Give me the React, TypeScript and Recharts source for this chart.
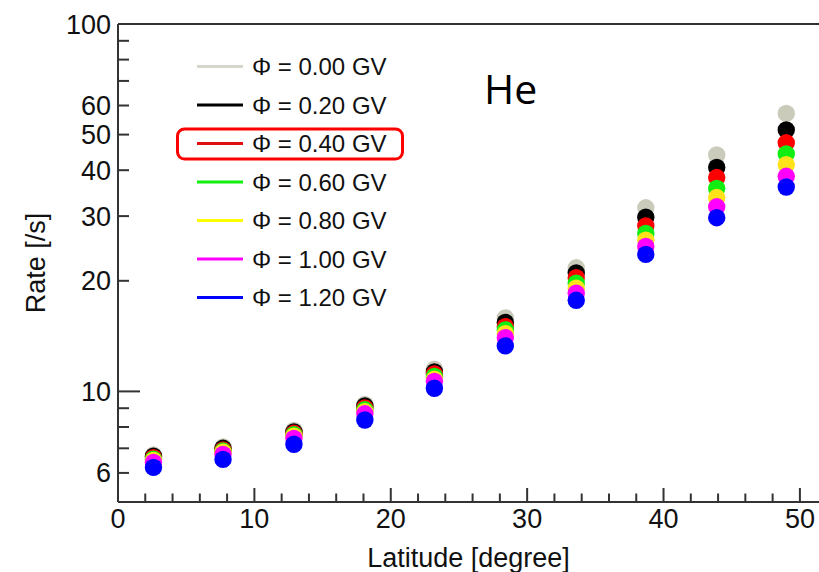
import React from 'react';
import { ScatterChart, Scatter, XAxis, YAxis, ReferenceLine, Legend, Label } from 'recharts';

const latitudes = [2.6, 7.7, 12.9, 18.1, 23.2, 28.4, 33.6, 38.7, 43.9, 49.0];
const phi000 = [6.71, 7.06, 7.83, 9.22, 11.5, 15.85, 21.7, 31.6, 44.0, 57.1];
const phi020 = [6.66, 7.0, 7.76, 9.13, 11.3, 15.4, 21.0, 29.8, 40.7, 51.5];
const phi040 = [6.6, 6.93, 7.69, 9.02, 11.16, 15.0, 20.4, 28.2, 38.2, 47.5];
const phi060 = [6.54, 6.88, 7.62, 8.91, 10.98, 14.7, 19.7, 26.9, 35.7, 44.3];
const phi080 = [6.49, 6.83, 7.55, 8.8, 10.8, 14.35, 19.1, 25.8, 33.7, 41.4];
const phi100 = [6.41, 6.74, 7.45, 8.69, 10.65, 14.0, 18.5, 24.8, 31.8, 38.5];
const phi120 = [6.21, 6.53, 7.18, 8.36, 10.2, 13.3, 17.7, 23.6, 29.7, 36.0];

const seriesValues = [phi000, phi020, phi040, phi060, phi080, phi100, phi120];
const seriesNames = [
  'Φ = 0.00 GV',
  'Φ = 0.20 GV',
  'Φ = 0.40 GV',
  'Φ = 0.60 GV',
  'Φ = 0.80 GV',
  'Φ = 1.00 GV',
  'Φ = 1.20 GV',
];
const seriesColors = ['#cbcbbb', '#000000', '#ff0000', '#11ee11', '#ffe21a', '#ff00ff', '#0000ff'];
const legendLineColors = ['#d6d6cc', '#000000', '#e01010', '#11ee11', '#ffff00', '#ff00ff', '#0000ff'];

const xTicks = [0, 2, 4, 6, 8, 10, 12, 14, 16, 18, 20, 22, 24, 26, 28, 30, 32, 34, 36, 38, 40, 42, 44, 46, 48, 50];
const xTickLabels = [0, 10, 20, 30, 40, 50];
const yTicks = [6, 7, 8, 9, 10, 20, 30, 40, 50, 60, 70, 80, 90, 100];
const yTickLabels = [6, 10, 20, 30, 40, 50, 60, 100];
const yLongTicks = [10, 100];
const highlightedIndex = 2;
const annotation = 'He';

const FONT = '"Liberation Sans", Arial, Helvetica, sans-serif';
const AXIS_COLOR = '#333333';

const seriesData = seriesValues.map((vals) => vals.map((v, i) => ({ x: latitudes[i], y: v })));

const Dot = (props: any) => {
  const { cx, cy, fill } = props;
  if (cx == null || cy == null) return null;
  return <circle cx={cx} cy={cy} r={8.7} fill={fill} />;
};

const XTick = (props: any) => {
  const { x, y, payload } = props;
  const v = payload.value;
  const major = xTickLabels.includes(v);
  const len = major ? 14 : 8.5;
  return (
    <g>
      <line x1={x} x2={x} y1={y} y2={y - len} stroke={AXIS_COLOR} strokeWidth={2} />
      {major && (
        <text x={x} y={y + 26} textAnchor="middle" fontFamily={FONT} fontSize={27} fill="#111">
          {v}
        </text>
      )}
    </g>
  );
};

const YTick = (props: any) => {
  const { x, y, payload } = props;
  const v = payload.value;
  const len = yLongTicks.includes(v) ? 22 : 11;
  const labeled = yTickLabels.includes(v);
  return (
    <g>
      <line x1={x} x2={x + len} y1={y} y2={y} stroke={AXIS_COLOR} strokeWidth={2} />
      {labeled && (
        <text x={x - 7} y={y + 9.5} textAnchor="end" fontFamily={FONT} fontSize={27} fill="#111">
          {v}
        </text>
      )}
    </g>
  );
};

const LegendOverlay = () => (
  <svg width={819} height={572} style={{ display: 'block' }}>
    {seriesNames.map((name, i) => {
      const cy = 66.5 + i * 38.5;
      return (
        <g key={name}>
          <line x1={197} x2={243} y1={cy} y2={cy} stroke={legendLineColors[i]} strokeWidth={3} />
          <text x={252} y={cy + 8.5} fontFamily={FONT} fontSize={24} fill="#111">
            {name}
          </text>
        </g>
      );
    })}
    <rect
      x={177.5}
      y={66.5 + highlightedIndex * 38.5 - 14.5}
      width={225}
      height={30}
      rx={7}
      ry={7}
      fill="none"
      stroke="#ff0000"
      strokeWidth={3}
    />
    <text x={484} y={104} fontFamily='"Open Sans", "Noto Sans", sans-serif' fontSize={41} fill="#000">
      {annotation}
    </text>
  </svg>
);

export default function App() {
  return (
    <div style={{ position: 'absolute', left: 0, top: 0, width: 819, height: 572, background: '#fff' }}>
      <ScatterChart width={819} height={572} margin={{ top: 24, right: 0, bottom: 0, left: 0 }}>
        <XAxis
          type="number"
          dataKey="x"
          domain={[0, 51.4]}
          allowDataOverflow
          ticks={xTicks}
          interval={0}
          tickSize={0}
          tickMargin={0}
          tick={<XTick />}
          tickLine={false}
          height={70}
          axisLine={{ stroke: AXIS_COLOR, strokeWidth: 2 }}
        >
          <Label
            content={(p: any) => {
              const vb = p.viewBox || {};
              return (
                <text x={(vb.x ?? 118) + (vb.width ?? 701) / 2} y={(vb.y ?? 502) + 65} textAnchor="middle" fontFamily={FONT} fontSize={27} fill="#111">
                  Latitude [degree]
                </text>
              );
            }}
          />
        </XAxis>
        <YAxis
          type="number"
          dataKey="y"
          scale="log"
          domain={[5, 100]}
          allowDataOverflow
          ticks={yTicks}
          interval={0}
          tickSize={0}
          tickMargin={0}
          tick={<YTick />}
          tickLine={false}
          width={118}
          axisLine={{ stroke: AXIS_COLOR, strokeWidth: 2 }}
        >
          <Label
            content={(p: any) => {
              const vb = p.viewBox || {};
              const cy = (vb.y ?? 24) + (vb.height ?? 478) / 2;
              return (
                <text x={45} y={cy} transform={`rotate(-90, 45, ${cy})`} textAnchor="middle" fontFamily={FONT} fontSize={27} fill="#111">
                  Rate [/s]
                </text>
              );
            }}
          />
        </YAxis>
        <ReferenceLine y={100} stroke={AXIS_COLOR} strokeWidth={2} />
        {seriesData.map((d, i) => (
          <Scatter
            key={seriesNames[i]}
            name={seriesNames[i]}
            data={d}
            fill={seriesColors[i]}
            shape={<Dot />}
            isAnimationActive={false}
          />
        ))}
        <Legend
          layout="vertical"
          align="center"
          verticalAlign="middle"
          content={() => <LegendOverlay />}
          wrapperStyle={{ position: 'absolute', left: 0, top: 0, width: 819, height: 572, pointerEvents: 'none' }}
        />
      </ScatterChart>
    </div>
  );
}
